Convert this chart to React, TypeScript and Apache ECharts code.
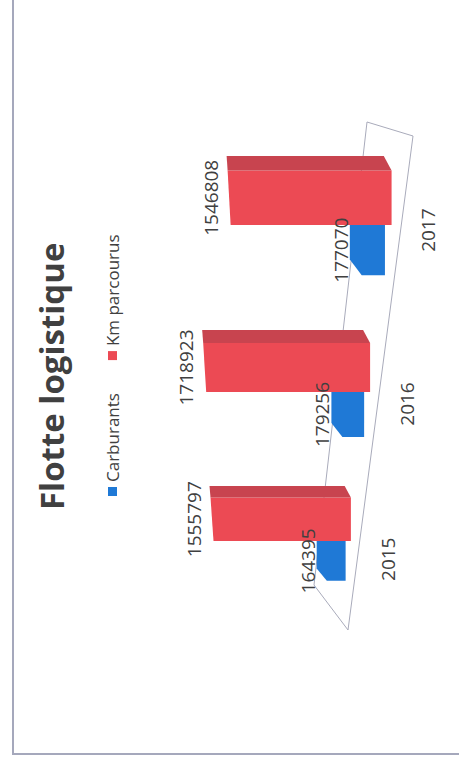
import React, { useEffect, useRef } from "react";
import * as echarts from "echarts";

const CATEGORIES = ["2015", "2016", "2017"];
const CARBURANTS = [164395, 179256, 177070];
const KM_PARCOURUS = [1555797, 1718923, 1546808];
const SERIES_NAMES = ["Carburants", "Km parcourus"];
const TITLE = "Flotte logistique";

const BLUE = "#1f79d6";
const RED = "#ec4a54";
const RED_DARK = "#c8444f";
const TEXT = "#404040";
const FONT = "'Open Sans', 'Noto Sans', sans-serif";

// perspective look (presentation only)
const Q = 3.56e-4; // horizontal perspective growth
const HQ = 5e-4; // vertical perspective growth
const PED = 17; // 3D pedestal in px
const SLOPE = 0.1266; // floor slope

function warp(params: any, api: any) {
  const cs = params.coordSys;
  const midX = cs.x + cs.width / 2;
  const t = api.value(0);
  const v = api.value(1);
  const p = api.coord([t, v]);
  const y0 = api.coord([t, 0])[1];
  const d = p[0] - midX;
  const gc = p[0] + Q * d * d;
  const mw = 1 + 2 * Q * d;
  const mh = 1 + HQ * d;
  const h = (PED + (y0 - p[1])) * mh;
  const baseAt = (x: number) => y0 + SLOPE * (x - midX);
  return { gc, mw, mh, h, baseAt, v, t, midX };
}

function textEl(text: string, x: number, y: number, size: number) {
  return {
    type: "text",
    z2: 10,
    style: {
      text,
      x,
      y,
      align: "center",
      verticalAlign: "middle",
      textAlign: "center",
      textVerticalAlign: "middle",
      fontSize: size,
      fontFamily: FONT,
      fill: TEXT,
    },
  };
}

function renderBlue(params: any, api: any) {
  const w = warp(params, api);
  const xl = w.gc - 54.5 * w.mw;
  const xr = w.gc - 9.5 * w.mw;
  const base = w.baseAt((xl + xr) / 2);
  const top = base - w.h;
  const bev = 11 * w.mh;
  return {
    type: "group",
    children: [
      {
        type: "polygon",
        shape: {
          points: [
            [xl, top + bev],
            [xl + 14 * w.mw, top],
            [xr, top],
            [xr, base],
            [xl, base],
          ],
        },
        style: { fill: BLUE },
      },
      textEl(String(w.v), (xl + xr) / 2, top - 9, 19),
    ],
  };
}

function renderRed(params: any, api: any) {
  const w = warp(params, api);
  const xl = w.gc - 9.5 * w.mw;
  const xr = w.gc + 39.5 * w.mw;
  const xs = w.gc + 52.5 * w.mw;
  const base = w.baseAt((xl + xr) / 2);
  const top = base - w.h;
  return {
    type: "group",
    children: [
      {
        type: "polygon",
        shape: {
          points: [
            [xl, top + 4],
            [xr, top + 1],
            [xr, base],
            [xl, base],
          ],
        },
        style: { fill: RED },
      },
      {
        type: "polygon",
        shape: {
          points: [
            [xr, top + 1],
            [xs, top],
            [xs, base - 7 * w.mw],
            [xr, base],
          ],
        },
        style: { fill: RED_DARK },
      },
      textEl(String(w.v), (xl + xr) / 2, top - 16, 19),
    ],
  };
}

function renderCategory(params: any, api: any) {
  const w = warp(params, api);
  const x = w.gc - 21.5 + 0.035 * (w.gc - w.midX);
  const y = w.baseAt(w.gc) + 39;
  return textEl(CATEGORIES[w.t], x, y, 19);
}

export default function App() {
  const ref = useRef<HTMLDivElement>(null);
  useEffect(() => {
    if (!ref.current) return;
    const chart = echarts.init(ref.current, undefined, { renderer: "svg" });
    chart.setOption({
      animation: false,
      backgroundColor: "#ffffff",
      title: {
        text: TITLE,
        left: 249,
        top: 30,
        textStyle: { fontFamily: FONT, fontWeight: "bold", fontSize: 33, color: TEXT },
      },
      legend: {
        data: SERIES_NAMES,
        left: 263,
        top: 99,
        icon: "rect",
        itemWidth: 9,
        itemHeight: 9,
        itemGap: 33,
        textStyle: { fontFamily: FONT, fontSize: 17, color: TEXT },
      },
      grid: { left: 143, right: 144, top: 192.6, bottom: 90.8 },
      xAxis: { type: "category", data: CATEGORIES, show: false },
      yAxis: { type: "value", min: 0, max: 2000000, show: false },
      graphic: [
        {
          type: "polyline",
          shape: { points: [[764, 13], [10, 13], [10, 459]] },
          style: { stroke: "#a5a8bc", lineWidth: 2, fill: "none" },
          silent: true,
        },
        {
          type: "polygon",
          shape: { points: [[179, 314], [642, 367], [628, 413], [134, 348]] },
          style: { stroke: "#a9abbb", lineWidth: 1, fill: "none" },
          silent: true,
        },
      ],
      series: [
        {
          type: "custom",
          name: SERIES_NAMES[0],
          z: 3,
          itemStyle: { color: BLUE },
          encode: { x: 0, y: 1 },
          data: CARBURANTS.map((v, i) => [i, v]),
          renderItem: renderBlue,
        },
        {
          type: "custom",
          name: SERIES_NAMES[1],
          z: 2,
          itemStyle: { color: RED },
          encode: { x: 0, y: 1 },
          data: KM_PARCOURUS.map((v, i) => [i, v]),
          renderItem: renderRed,
        },
        {
          type: "custom",
          name: "categories",
          silent: true,
          encode: { x: 0, y: 1 },
          data: CATEGORIES.map((_c, i) => [i, 0]),
          renderItem: renderCategory,
        },
      ],
    });
    return () => chart.dispose();
  }, []);
  return (
    <div
      style={{
        position: "absolute",
        left: 0,
        top: 0,
        width: 459,
        height: 764,
        overflow: "hidden",
        background: "#ffffff",
      }}
    >
      <div
        ref={ref}
        style={{
          position: "absolute",
          left: 0,
          top: 0,
          width: 764,
          height: 459,
          transformOrigin: "0 0",
          transform: "translate(0px, 764px) rotate(-90deg)",
        }}
      />
    </div>
  );
}
